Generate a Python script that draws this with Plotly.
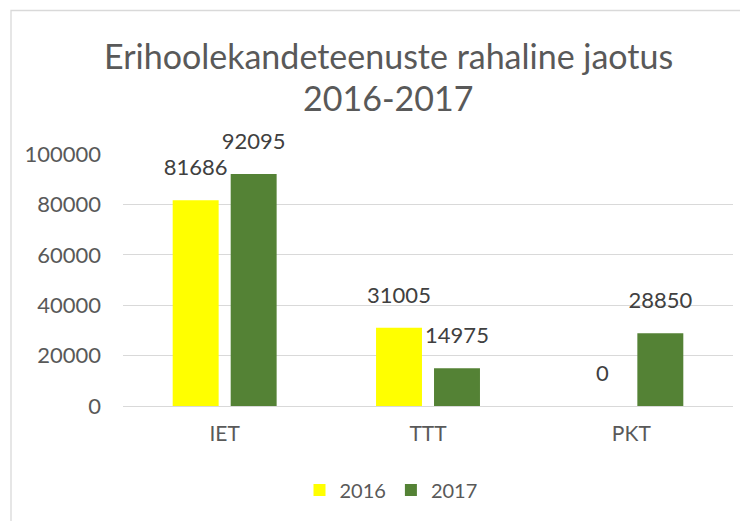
import plotly.graph_objects as go

categories = ["IET", "TTT", "PKT"]
values_2016 = [81686, 31005, 0]
values_2017 = [92095, 14975, 28850]
series_names = ["2016", "2017"]
title_lines = ["Erihoolekandeteenuste rahaline jaotus", "2016-2017"]

FONT = "Lato"
TXT = "#595959"
LBL = "#404040"
COLORS = ["#FFFF00", "#548235"]

# page body has an 8px margin; work in reference-pixel coords and shift
OFF = 8
W, H = 748 - OFF, 521 - OFF
L_ref, R_ref, T_ref, B_ref = 123, 733, 154, 406
L, R, T, B = L_ref - OFF, W - (R_ref - OFF), T_ref - OFF, H - (B_ref - OFF)
pw, ph = W - L - R, H - T - B

def px_x(p):
    return (p - OFF - L) / pw

def px_y(p):
    return (H - B - (p - OFF)) / ph

idx = list(range(len(categories)))
BAR_W = 0.226
SHIFT = 0.1426

fig = go.Figure()
for k, (name, vals) in enumerate(zip(series_names, [values_2016, values_2017])):
    xs = [i + (SHIFT if k else -SHIFT) for i in idx]
    fig.add_trace(go.Bar(
        x=xs, y=vals, name=name, width=BAR_W, marker_color=COLORS[k], marker_line_width=0,
        hoverinfo="y",
    ))
    fig.add_trace(go.Scatter(
        x=xs, y=vals, mode="text+markers", text=[str(v) for v in vals],
        textposition="top center", showlegend=False, cliponaxis=False,
        marker=dict(size=30, opacity=0, color="white"),
        textfont=dict(family=FONT, size=22, color=LBL), hoverinfo="skip",
    ))

fig.update_layout(
    width=W, height=H,
    margin=dict(l=L, r=R, t=T, b=B),
    paper_bgcolor="white", plot_bgcolor="white",
    barmode="overlay",
    showlegend=True,
    legend=dict(orientation="h", x=px_x(391), xanchor="center", y=px_y(490), yanchor="middle",
                font=dict(family=FONT, size=20, color=TXT), itemwidth=30,
                traceorder="normal"),
    font=dict(family=FONT, color=TXT),
    xaxis=dict(range=[-0.5, 2.5], tickvals=idx, ticktext=categories,
               showgrid=False, showline=False, zeroline=False, ticks="", ticklabelstandoff=13,
               tickfont=dict(family=FONT, size=21, color=TXT)),
    yaxis=dict(range=[0, 100000], dtick=20000, showgrid=True, gridcolor="#D9D9D9",
               gridwidth=1.3, zeroline=True, zerolinecolor="#D9D9D9", zerolinewidth=1.3,
               showline=False, ticks="", ticklabelstandoff=21, tickformat="d",
               tickfont=dict(family=FONT, size=22, color=TXT)),
    shapes=[dict(type="rect", xref="paper", yref="paper",
                 x0=px_x(11), x1=px_x(800), y0=px_y(560), y1=px_y(10.5),
                 line=dict(color="#D9D9D9", width=1.3), fillcolor="rgba(0,0,0,0)", layer="below")],
    annotations=[
        dict(text=title_lines[0], xref="paper", yref="paper", x=px_x(388), y=px_y(55),
             xanchor="center", yanchor="middle", showarrow=False,
             font=dict(family=FONT, size=34, color=TXT)),
        dict(text=title_lines[1], xref="paper", yref="paper", x=px_x(388), y=px_y(98),
             xanchor="center", yanchor="middle", showarrow=False,
             font=dict(family=FONT, size=34, color=TXT)),
    ],
)

fig.write_html("out.html")
